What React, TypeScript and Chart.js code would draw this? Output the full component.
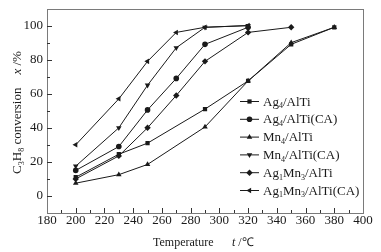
import React, { useEffect, useRef } from 'react';
import { Chart, registerables } from 'chart.js';
import { drawPoint } from 'chart.js/helpers';

Chart.register(...registerables);

// ---- data ----
const tempsAg4 = [200, 230, 250, 290, 320, 350, 380];
const convAg4 = [11, 24.5, 31, 51, 67.5, 89, 99];

const tempsAg4CA = [200, 230, 250, 270, 290, 320];
const convAg4CA = [15, 29, 50.5, 69, 89, 99];

const tempsMn4 = [200, 230, 250, 290, 320, 350, 380];
const convMn4 = [7.5, 12.5, 18.5, 40.5, 67.5, 90, 99];

const tempsMn4CA = [200, 230, 250, 270, 290, 320];
const convMn4CA = [17.5, 40, 65, 87, 99, 100];

const tempsAg1Mn3 = [200, 230, 250, 270, 290, 320, 350];
const convAg1Mn3 = [10, 23.5, 40, 59, 79, 96, 99];

const tempsAg1Mn3CA = [200, 230, 250, 270, 290, 320];
const convAg1Mn3CA = [30, 57, 79, 96, 99, 100];

const yTickValues = [0, 20, 40, 60, 80, 100];

type Part = { t: string; sub?: boolean; it?: boolean };

const seriesNames: Part[][] = [
  [{ t: 'Ag' }, { t: '4', sub: true }, { t: '/AlTi' }],
  [{ t: 'Ag' }, { t: '4', sub: true }, { t: '/AlTi(CA)' }],
  [{ t: 'Mn' }, { t: '4', sub: true }, { t: '/AlTi' }],
  [{ t: 'Mn' }, { t: '4', sub: true }, { t: '/AlTi(CA)' }],
  [{ t: 'Ag' }, { t: '1', sub: true }, { t: 'Mn' }, { t: '3', sub: true }, { t: '/AlTi' }],
  [{ t: 'Ag' }, { t: '1', sub: true }, { t: 'Mn' }, { t: '3', sub: true }, { t: '/AlTi(CA)' }],
];

const FONT = '"Liberation Serif", "Times New Roman", serif';
const INK = '#1a1a1a';
const FRAME = '#7a7a7a';

function partFont(p: Part, size: number) {
  const s = p.sub ? Math.round(size * 0.62) : size;
  return `${p.it ? 'italic ' : ''}${s}px ${FONT}`;
}

function measureRich(ctx: CanvasRenderingContext2D, parts: Part[], size: number) {
  let w = 0;
  for (const p of parts) {
    ctx.font = partFont(p, size);
    w += ctx.measureText(p.t).width;
  }
  return w;
}

function drawRich(ctx: CanvasRenderingContext2D, parts: Part[], x: number, y: number, size: number) {
  ctx.textBaseline = 'alphabetic';
  ctx.textAlign = 'left';
  let cx = x;
  for (const p of parts) {
    ctx.font = partFont(p, size);
    ctx.fillText(p.t, cx, p.sub ? y + size * 0.22 : y);
    cx += ctx.measureText(p.t).width;
  }
}

const pointStyles: any[] = ['rect', 'circle', 'triangle', 'triangle', 'rectRot', 'triangle'];
const pointRotations = [0, 0, 0, 180, 0, -90];
const pointRadii = [3, 2.8, 3.2, 3.2, 3.2, 3.2];

function makeData(temps: number[], vals: number[]) {
  return temps.map((t, i) => ({ x: t, y: vals[i] }));
}

const frameAndExtras = {
  id: 'frameAndExtras',
  afterDraw(chart: any) {
    const { ctx, chartArea: a, scales } = chart;
    const xs = scales.x;
    const ys = scales.y;
    ctx.save();
    // frame
    ctx.strokeStyle = FRAME;
    ctx.lineWidth = 1;
    ctx.strokeRect(Math.round(a.left) + 0.5, Math.round(a.top) + 0.5, Math.round(a.right - a.left), Math.round(a.bottom - a.top));
    // ticks
    ctx.strokeStyle = '#333';
    ctx.beginPath();
    for (let v = 190; v < 400; v += 10) {
      const px = Math.round(xs.getPixelForValue(v)) + 0.5;
      const len = v % 20 === 0 ? 5 : 3;
      ctx.moveTo(px, a.bottom);
      ctx.lineTo(px, a.bottom - len);
    }
    for (let v = 0; v <= 100; v += 10) {
      const py = Math.round(ys.getPixelForValue(v)) + 0.5;
      const len = v % 20 === 0 ? 5 : 3;
      ctx.moveTo(a.left, py);
      ctx.lineTo(a.left + len, py);
    }
    ctx.stroke();

    ctx.fillStyle = INK;
    // x title
    const size = 12;
    drawRich(ctx, [{ t: 'Temperature' }], 153, 246, size);
    drawRich(ctx, [{ t: 't', it: true }, { t: ' /\u2103' }], 232, 246, size);

    // y title
    const yParts: Part[] = [
      { t: 'C' }, { t: '3', sub: true }, { t: 'H' }, { t: '8', sub: true }, { t: ' conversion    ' },
      { t: 'x', it: true }, { t: ' /%' },
    ];
    const w = measureRich(ctx, yParts, 13);
    ctx.save();
    ctx.translate(21, 112.5);
    ctx.rotate(-Math.PI / 2);
    drawRich(ctx, yParts, -w / 2, 0, 13);
    ctx.restore();

    // legend
    const lx0 = 240;
    const lx1 = 259;
    const tx = 263;
    const y0 = 101;
    const dy = 17.8;
    chart.data.datasets.forEach((ds: any, i: number) => {
      const y = y0 + i * dy;
      ctx.strokeStyle = INK;
      ctx.lineWidth = 1;
      ctx.beginPath();
      ctx.moveTo(lx0, y + 0.5);
      ctx.lineTo(lx1, y + 0.5);
      ctx.stroke();
      ctx.fillStyle = INK;
      drawPoint(ctx, {
        pointStyle: pointStyles[i],
        rotation: pointRotations[i],
        radius: pointRadii[i],
        borderWidth: 0,
      } as any, (lx0 + lx1) / 2, y + 0.5);
      ctx.fillStyle = INK;
      drawRich(ctx, seriesNames[i], tx, y + 4.5, 13);
    });
    ctx.restore();
  },
};

export default function App() {
  const ref = useRef<HTMLCanvasElement>(null);
  useEffect(() => {
    document.body.style.margin = '0';
    const series = [
      makeData(tempsAg4, convAg4),
      makeData(tempsAg4CA, convAg4CA),
      makeData(tempsMn4, convMn4),
      makeData(tempsMn4CA, convMn4CA),
      makeData(tempsAg1Mn3, convAg1Mn3),
      makeData(tempsAg1Mn3CA, convAg1Mn3CA),
    ];
    const chart = new Chart(ref.current!, {
      type: 'line',
      data: {
        datasets: series.map((d, i) => ({
          label: seriesNames[i].map((p) => p.t).join(''),
          data: d,
          borderColor: INK,
          backgroundColor: INK,
          borderWidth: 1,
          pointStyle: pointStyles[i],
          pointRotation: pointRotations[i],
          pointRadius: pointRadii[i],
          pointBorderWidth: 0,
          pointBackgroundColor: INK,
          tension: 0,
        })),
      },
      options: {
        responsive: false,
        animation: false,
        layout: { padding: { left: 0, top: 5, right: 18, bottom: 0 } },
        plugins: { legend: { display: false }, tooltip: { enabled: false } },
        scales: {
          x: {
            type: 'linear',
            min: 180,
            max: 400,
            ticks: { stepSize: 20, color: INK, font: { family: FONT, size: 13, lineHeight: 0.7 }, padding: 3, maxRotation: 0 },
            grid: { display: false, drawTicks: false },
            border: { display: false },
            afterFit: (s: any) => { s.height = 39; },
          },
          y: {
            min: -10,
            max: 110,
            afterBuildTicks: (s: any) => { s.ticks = yTickValues.map((v) => ({ value: v })); },
            ticks: { color: INK, font: { family: FONT, size: 13, lineHeight: 0.7 }, padding: 4 },
            grid: { display: false, drawTicks: false },
            border: { display: false },
            afterFit: (s: any) => { s.width = 47; },
          },
        },
      },
      plugins: [frameAndExtras],
    });
    return () => chart.destroy();
  }, []);
  return <canvas ref={ref} width={381} height={252} style={{ display: 'block' }} />;
}
